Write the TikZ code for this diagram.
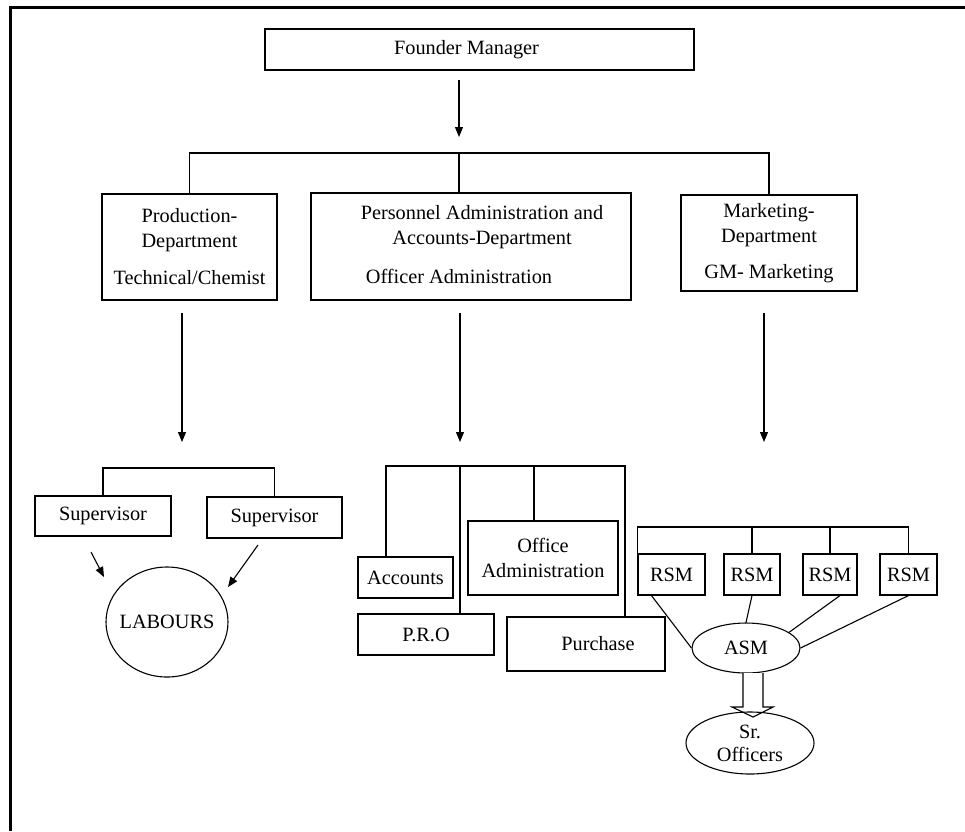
\documentclass[tikz,border=0pt]{standalone}
\usepackage{fontspec}
\setmainfont{Liberation Serif}
\usetikzlibrary{shapes.geometric,arrows.meta,calc}
\tikzset{
  box/.style={draw,rectangle,inner sep=0pt,align=center,line width=1.1pt},
  oval/.style={draw,ellipse,inner sep=0pt,line width=1.1pt},
  link/.style={line width=1.1pt},
  >={Triangle[length=10pt,width=8pt]}
}
\begin{document}
\begin{tikzpicture}[x=1pt,y=-1pt,font=\fontsize{20.3}{25}\selectfont]
\useasboundingbox (0,0) rectangle (965,831);
\draw[line width=2.8pt] (10.5,831) -- (10.5,7.3) -- (965,7.3);

\node[box,minimum width=429,minimum height=41] (founder) at (479.5,49.5) {Founder Manager\hspace*{26pt}};
\node[box,minimum width=175,minimum height=106] (prod) at (189.5,247) {Production-\\Department\\[12pt]Technical/Chemist};
\node[box,minimum width=320,minimum height=107] (pers) at (471,246.5) {};
\node[align=center] (perstext) at (482,227) {Personnel Administration and\\Accounts-Department};
\node (persoff) at (459,276) {Officer Administration};
\node[box,minimum width=176,minimum height=96] (mkt) at (769,243) {Marketing-\\Department\\[11pt]GM- Marketing};

\coordinate (fa) at (459,80);
\coordinate (fb) at (459,137);
\coordinate (bar) at (459,153);
\draw[link,->] (fa) -- (fb);
\draw[link] (prod.north) -- (prod.north |- bar) -- (mkt.north |- bar) -- (mkt.north);
\draw[link] (bar) -- (bar |- pers.north);

\foreach \x/\n in {182/p,460/a,764/m}{
  \coordinate (\n top) at (\x,313);
  \coordinate (\n bot) at (\x,442);
  \draw[link,->] (\n top) -- (\n bot);
}

\node[box,minimum width=136,minimum height=40] (sup1) at (103,516) {Supervisor};
\node[box,minimum width=135,minimum height=41] (sup2) at (274.5,517.5) {Supervisor};
\coordinate (pbar) at (182,468);
\draw[link] (sup1.north) -- (sup1.north |- pbar) -- (sup2.north |- pbar) -- (sup2.north);
\node[oval,minimum width=122,minimum height=110,label=center:LABOURS] (labour) at (167,622) {};
\coordinate (s1a) at (91,552);
\coordinate (s1b) at (104,577);
\coordinate (s2a) at (258,545);
\coordinate (s2b) at (228,587);
\draw[link,->] (s1a) -- (s1b);
\draw[link,->] (s2a) -- (s2b);

\node[box,minimum width=95,minimum height=41] (acc) at (405.5,577.5) {Accounts};
\node[box,minimum width=136,minimum height=41] (pro) at (426,634.5) {P.R.O};
\node[box,minimum width=150,minimum height=74] (office) at (543,558) {Office\\Administration};
\node[box,minimum width=158,minimum height=54] (purch) at (586,644) {\hspace*{24pt}Purchase};
\coordinate (abar) at (460,466);
\coordinate (ac) at (386,466);
\coordinate (oc) at (534,466);
\coordinate (pc) at (625,466);
\draw[link] (ac |- acc.north) -- (ac) -- (pc) -- (pc |- purch.north);
\draw[link] (abar) -- (abar |- pro.north);
\draw[link] (oc) -- (oc |- office.north);

\foreach \n/\x/\w in {1/671.5/67,2/752/56,3/830/54,4/908.5/57}
  \node[box,minimum width=\w,minimum height=41] (rsm\n) at (\x,574.5) {RSM};
\coordinate (mbar) at (764,527);
\draw[link] (rsm1.north west) -- (rsm1.north west |- mbar) -- (rsm4.north |- mbar) -- (rsm4.north);
\draw[link] (rsm2.north |- mbar) -- (rsm2.north);
\draw[link] (rsm3.north |- mbar) -- (rsm3.north);
\node[oval,minimum width=108,minimum height=50,label=center:ASM] (asm) at (746,648) {};
\draw[link] ($(rsm1.south west)+(14,0)$) -- (asm.west);
\draw[link] (rsm2.south) -- (asm.north);
\draw[link] ($(rsm3.south)+(10,0)$) -- (asm.20);
\draw[link] (rsm4.south) -- (asm.east);

\draw[link,fill=white] (743,673) -- (743,707) -- (732,707) -- (753,717) -- (773,707) -- (763,707) -- (763,673);
\node[oval,minimum width=128,minimum height=62,label={[align=center,font=\fontsize{20.3}{23}\selectfont]center:{Sr.\\Officers}}] (sro) at (750,743) {};
\end{tikzpicture}
\end{document}
